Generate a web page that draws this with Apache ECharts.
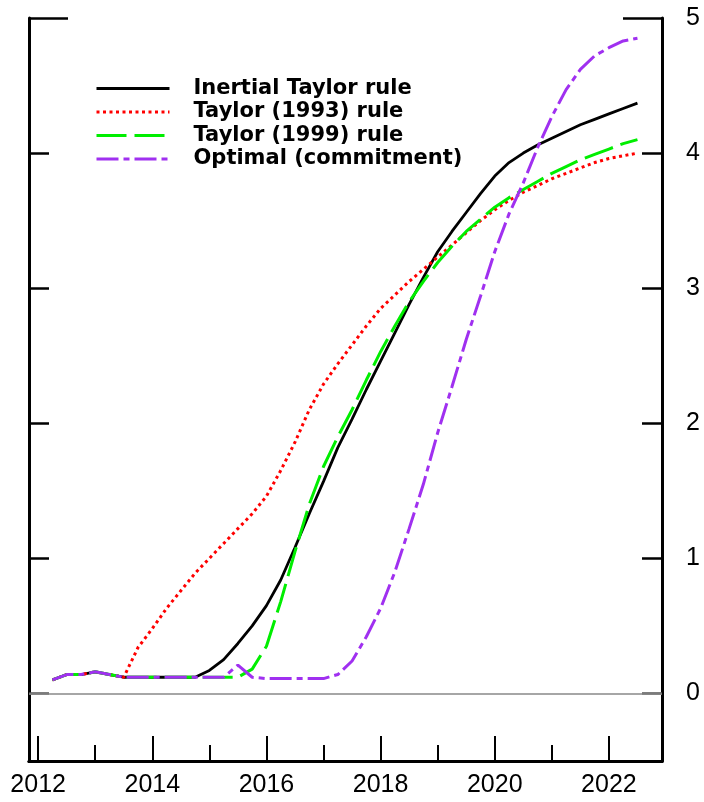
<!DOCTYPE html>
<html>
<head>
<meta charset="utf-8">
<script src="https://cdn.jsdelivr.net/npm/echarts@6/dist/echarts.min.js"></script>
<style>
  html, body { margin: 0; padding: 0; background: #fff; }
  #chart { width: 704px; height: 802px; }
</style>
</head>
<body>
<div id="chart"></div>
<script>
// quarterly dates (decimal years)
var quarters = [
  2012.25, 2012.5, 2012.75,
  2013.0, 2013.25, 2013.5, 2013.75,
  2014.0, 2014.25, 2014.5, 2014.75,
  2015.0, 2015.25, 2015.5, 2015.75,
  2016.0, 2016.25, 2016.5, 2016.75,
  2017.0, 2017.25, 2017.5, 2017.75,
  2018.0, 2018.25, 2018.5, 2018.75,
  2019.0, 2019.25, 2019.5, 2019.75,
  2020.0, 2020.25, 2020.5, 2020.75,
  2021.0, 2021.25, 2021.5, 2021.75,
  2022.0, 2022.25, 2022.5
]

var inertialTaylor = [
  0.10, 0.14, 0.14,
  0.16, 0.14, 0.12, 0.12,
  0.12, 0.12, 0.12, 0.12,
  0.17, 0.25, 0.37, 0.50,
  0.65, 0.84, 1.08, 1.33,
  1.57, 1.82, 2.03, 2.25,
  2.46, 2.67, 2.88, 3.08,
  3.27, 3.42, 3.56, 3.70,
  3.83, 3.93, 4.00, 4.06,
  4.11, 4.16, 4.21, 4.25,
  4.29, 4.33, 4.37
]

var taylor1993 = [
  0.10, 0.14, 0.14,
  0.16, 0.14, 0.12, 0.34,
  0.48, 0.63, 0.76, 0.89,
  1.00, 1.11, 1.22, 1.33,
  1.46, 1.65, 1.86, 2.10,
  2.29, 2.44, 2.58, 2.72,
  2.85, 2.95, 3.05, 3.14,
  3.23, 3.32, 3.41, 3.50,
  3.58, 3.65, 3.71, 3.76,
  3.81, 3.85, 3.89, 3.93,
  3.96, 3.98, 4.00
]

var taylor1999 = [
  0.10, 0.14, 0.14,
  0.16, 0.14, 0.12, 0.12,
  0.12, 0.12, 0.12, 0.12,
  0.12, 0.12, 0.12, 0.18,
  0.35, 0.68, 1.05, 1.40,
  1.68, 1.90, 2.10, 2.32,
  2.53, 2.72, 2.90, 3.05,
  3.19, 3.31, 3.42, 3.51,
  3.60, 3.67, 3.73, 3.79,
  3.85, 3.90, 3.95, 3.99,
  4.03, 4.07, 4.10
]

var optimalCommitment = [
  0.10, 0.14, 0.14,
  0.16, 0.14, 0.12, 0.12,
  0.12, 0.12, 0.12, 0.12,
  0.12, 0.12, 0.21, 0.12,
  0.11, 0.11, 0.11, 0.11,
  0.11, 0.14, 0.24, 0.42,
  0.63, 0.90, 1.22, 1.55,
  1.93, 2.27, 2.62, 2.94,
  3.27, 3.55, 3.78, 4.04,
  4.27, 4.47, 4.62, 4.72,
  4.78, 4.83, 4.85
]

var seriesNames = ['Inertial Taylor rule', 'Taylor (1993) rule', 'Taylor (1999) rule', 'Optimal (commitment)']
var yearLabels = [2012, 2014, 2016, 2018, 2020, 2022]
var oddYears = [2013, 2015, 2017, 2019, 2021]
var yTickLabels = [0, 1, 2, 3, 4, 5]
var yInnerTicks = [1, 2, 3, 4]

var font = 'Liberation Sans, Arial, Helvetica, sans-serif'
var legendFont = 'DejaVu Sans, Liberation Sans, sans-serif'

function pairs(vals) {
  return quarters.map(function (q, i) { return [q, vals[i]] })
}

function yAx(pos, ticks, len, color, showLine, showLabel) {
  return {
    type: 'value',
    position: pos,
    min: -0.5,
    max: 5,
    splitLine: { show: false },
    axisLine: { show: showLine, lineStyle: { color: '#000', width: 3 } },
    axisTick: {
      show: true,
      inside: true,
      length: len,
      customValues: ticks,
      lineStyle: { color: color, width: 2.5 }
    },
    axisLabel: {
      show: showLabel,
      customValues: yTickLabels,
      margin: 24,
      color: '#000',
      fontSize: 25,
      fontFamily: font
    }
  }
}

function xAx(ticks, len, showLabel) {
  return {
    type: 'value',
    position: 'bottom',
    min: 2011.84,
    max: 2022.93,
    splitLine: { show: false },
    axisLine: { show: true, onZero: false, lineStyle: { color: '#000', width: 3 } },
    axisTick: {
      show: true,
      inside: true,
      length: len,
      customValues: ticks,
      lineStyle: { color: '#000', width: 2 }
    },
    axisLabel: {
      show: showLabel,
      customValues: yearLabels,
      margin: 12,
      color: '#000',
      fontSize: 25,
      fontFamily: font,
      formatter: function (v) { return String(v) }
    }
  }
}

var chart = echarts.init(document.getElementById('chart'), null, { renderer: 'canvas' })

var option = {
  animation: false,
  backgroundColor: '#fff',
  grid: { left: 29, right: 42, top: 18, bottom: 41, containLabel: false },
  legend: {
    orient: 'vertical',
    left: 90,
    top: 73,
    itemWidth: 73,
    itemHeight: 14,
    itemGap: 2.5,
    data: seriesNames,
    itemStyle: { color: 'transparent', borderColor: 'transparent', borderWidth: 0 },
    lineStyle: { width: 3 },
    textStyle: {
      color: '#000',
      fontSize: 21,
      fontWeight: 'bold',
      fontFamily: legendFont,
      lineHeight: 21,
      padding: [0, 0, 0, 19]
    }
  },
  xAxis: [
    xAx(yearLabels, 25, true),
    xAx(oddYears, 16, false)
  ],
  yAxis: [
    yAx('right', yInnerTicks, 20, '#000', true, true),
    yAx('left', yInnerTicks, 20, '#000', true, false),
    yAx('right', [5], 39, '#000', false, false),
    yAx('left', [5], 39, '#000', false, false),
    yAx('right', [0], 20, '#555', false, false),
    yAx('left', [0], 20, '#555', false, false)
  ],
  series: [
    {
      name: seriesNames[0],
      type: 'line',
      data: pairs(inertialTaylor),
      showSymbol: false,
      symbol: 'none',
      lineStyle: { color: '#000', width: 2.8 },
      itemStyle: { color: '#000' },
      markLine: {
        silent: true,
        symbol: 'none',
        label: { show: false },
        lineStyle: { color: '#888', width: 1.5, type: 'solid' },
        data: [{ yAxis: 0 }]
      }
    },
    {
      name: seriesNames[1],
      type: 'line',
      data: pairs(taylor1993),
      showSymbol: false,
      symbol: 'none',
      lineStyle: { color: '#ff0000', width: 3, type: [3, 3.5] },
      itemStyle: { color: '#ff0000' }
    },
    {
      name: seriesNames[2],
      type: 'line',
      data: pairs(taylor1999),
      showSymbol: false,
      symbol: 'none',
      lineStyle: { color: '#00ee00', width: 3, type: [30, 8] },
      itemStyle: { color: '#00ee00' }
    },
    {
      name: seriesNames[3],
      type: 'line',
      data: pairs(optimalCommitment),
      showSymbol: false,
      symbol: 'none',
      lineStyle: { color: '#a030f0', width: 3, type: [22, 5, 6, 5] },
      itemStyle: { color: '#a030f0' }
    }
  ]
}

chart.setOption(option)
</script>
</body>
</html>
